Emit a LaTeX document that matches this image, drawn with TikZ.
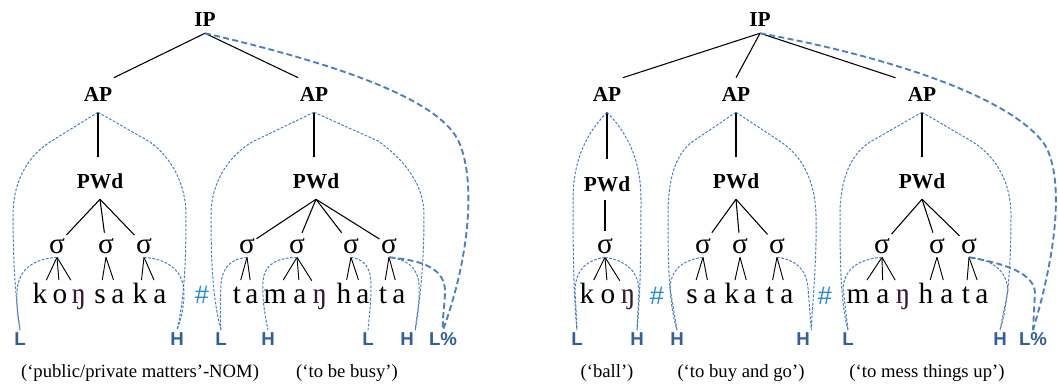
\documentclass[tikz,border=0pt]{standalone}
\usepackage{fontspec}
\setmainfont{Liberation Serif}
\newfontfamily\labfont{Liberation Sans}
\definecolor{arcblue}{HTML}{4A7EC6}
\definecolor{tonblue}{HTML}{2F5F9E}
\definecolor{hashblue}{HTML}{2288D8}
\definecolor{engcol}{HTML}{3A1A32}
\tikzset{
 cat/.style={font=\fontsize{16}{19}\selectfont\bfseries, anchor=base, inner xsep=1pt, inner ysep=7.5pt, text height=10.5pt, text depth=0pt},
 ipn/.style={cat, inner ysep=4.5pt},
 syl/.style={font=\fontsize{22}{26}\selectfont, anchor=base, inner xsep=1pt, inner ysep=3pt, text height=12pt, text depth=0pt},
 seg/.style={font=\fontsize{22}{26}\selectfont, anchor=base, inner xsep=0.5pt, inner ysep=3pt, text height=14pt, text depth=0pt},
 tone/.style={font=\labfont\bfseries\fontsize{14}{17}\selectfont, text=tonblue, anchor=base, inner sep=1pt, text height=10pt, text depth=0pt},
 hashn/.style={font=\labfont\fontsize{19}{22}\selectfont, text=hashblue, anchor=base, inner sep=0pt},
 gloss/.style={font=\fontsize{14}{17}\selectfont, anchor=base, inner sep=0pt},
 br/.style={draw=black, line width=0.8pt},
 arc/.style={draw=arcblue, line width=0.75pt, dash pattern=on 2pt off 1.2pt},
 arcT/.style={draw=arcblue, line width=1.4pt, dash pattern=on 4.5pt off 2.5pt},
}
\begin{document}
\begin{tikzpicture}[x=0.75pt,y=-0.75pt]
\useasboundingbox (0,0) rectangle (1058,385);
% ---------- left tree ----------
\node[ipn] (IPL) at (205,27) {IP};
\node[cat] (APL) at (98,102) {AP};
\node[cat] (APR) at (314,102) {AP};
\node[cat] (PWdL) at (100,189) {PWd};
\node[cat] (PWdR) at (316,189) {PWd};
\node[syl] (s1) at (57,253) {σ};
\node[syl] (s2) at (106,253) {σ};
\node[syl] (s3) at (144,253) {σ};
\node[syl] (s4) at (247,253) {σ};
\node[syl] (s5) at (297,253) {σ};
\node[syl] (s6) at (351,253) {σ};
\node[syl] (s7) at (389,253) {σ};
\node[seg] (w1a) at (40,303) {k};
\node[seg] (w1b) at (60,303) {o};
\node[seg, text=engcol] (w1c) at (79,303) {ŋ};
\node[seg] (w1d) at (100,303) {s};
\node[seg] (w1e) at (118,303) {a};
\node[seg] (w1f) at (140,303) {k};
\node[seg] (w1g) at (160,303) {a};
\node[seg] (w2a) at (237,303) {t};
\node[seg] (w2b) at (252,303) {a};
\node[seg] (w2c) at (275,303) {m};
\node[seg] (w2d) at (300,303) {a};
\node[seg, text=engcol] (w2e) at (320,303) {ŋ};
\node[seg] (w2f) at (344,303) {h};
\node[seg] (w2g) at (363,303) {a};
\node[seg] (w2h) at (383,303) {t};
\node[seg] (w2i) at (399,303) {a};
\node[hashn] (hash1) at (202,303) {\#};
\node[tone] (L1) at (20,345) {L};
\node[tone] (H1) at (177,345) {H};
\node[tone] (L2) at (221,345) {L};
\node[tone] (H2) at (268,345) {H};
\node[tone] (L3) at (368,345) {L};
\node[tone] (H3) at (407,345) {H};
\node[tone] (Lp1) at (443,345) {L\%};
\node[gloss] (g1) at (140,377) {(‘public/private matters’-NOM)};
\node[gloss] (g2) at (347,377) {(‘to be busy’)};
% ---------- right tree ----------
\node[ipn] (IPR) at (760,27) {IP};
\node[cat] (AP1) at (607,102) {AP};
\node[cat] (AP2) at (736,102) {AP};
\node[cat] (AP3) at (922,102) {AP};
\node[cat] (PWd1) at (607,191) {PWd};
\node[cat] (PWd2) at (736,189) {PWd};
\node[cat] (PWd3) at (922,189) {PWd};
\node[syl] (s8) at (605,253) {σ};
\node[syl] (s9) at (703,253) {σ};
\node[syl] (s10) at (740,253) {σ};
\node[syl] (s11) at (777,253) {σ};
\node[syl] (s12) at (882,253) {σ};
\node[syl] (s13) at (937,253) {σ};
\node[syl] (s14) at (969,253) {σ};
\node[seg] (w3a) at (587,303) {k};
\node[seg] (w3b) at (608,303) {o};
\node[seg, text=engcol] (w3c) at (628,303) {ŋ};
\node[seg] (w4a) at (692,303) {s};
\node[seg] (w4b) at (710,303) {a};
\node[seg] (w4c) at (732,303) {k};
\node[seg] (w4d) at (750,303) {a};
\node[seg] (w4e) at (770,303) {t};
\node[seg] (w4f) at (787,303) {a};
\node[seg] (w5a) at (858,303) {m};
\node[seg] (w5b) at (883,303) {a};
\node[seg, text=engcol] (w5c) at (903,303) {ŋ};
\node[seg] (w5d) at (926,303) {h};
\node[seg] (w5e) at (947,303) {a};
\node[seg] (w5f) at (966,303) {t};
\node[seg] (w5g) at (982,303) {a};
\node[hashn] (hash2) at (657,304) {\#};
\node[hashn] (hash3) at (825,304) {\#};
\node[tone] (L4) at (577,345) {L};
\node[tone] (H4) at (637,345) {H};
\node[tone] (H5) at (677,345) {H};
\node[tone] (H6) at (803,345) {H};
\node[tone] (L5) at (848,345) {L};
\node[tone] (H7) at (1000,345) {H};
\node[tone] (Lp2) at (1033,345) {L\%};
\node[gloss] (g3) at (607,377) {(‘ball’)};
\node[gloss] (g4) at (741,377) {(‘to buy and go’)};
\node[gloss] (g5) at (927,377) {(‘to mess things up’)};
% ---------- black branches ----------
\draw[br] (IPL.south) -- (APL.north east);
\draw[br] (IPL.south) -- (APR.north west);
\draw[br] (IPR.south) -- (AP1.north east);
\draw[br] (IPR.south) -- (AP2.north);
\draw[br] (IPR.south) -- ([xshift=-8pt]AP3.north west);
\foreach \a/\p in {APL/PWdL,APR/PWdR,AP2/PWd2,AP3/PWd3,AP1/PWd1}
  \draw[br] (\a.south) -- ([yshift=6pt]\a.south |- \p.north);
\foreach \p/\c in {PWdL/s1,PWdL/s2,PWdL/s3,PWdR/s4,PWdR/s5,PWdR/s6,PWdR/s7,
  PWd2/s9,PWd2/s10,PWd2/s11,PWd3/s12,PWd3/s13,PWd3/s14}
  \draw[br] (\p.south) -- (\c);
\draw[br] ([yshift=1pt]PWd1.south -| s8.north) -- ([yshift=1.5pt]s8.north);
\foreach \p/\c in {s1/w1a,s1/w1b,s1/w1c,s2/w1d,s2/w1e,s3/w1f,s3/w1g,
  s4/w2a,s4/w2b,s5/w2c,s5/w2d,s5/w2e,s6/w2f,s6/w2g,s7/w2h,s7/w2i,
  s8/w3a,s8/w3b,s8/w3c,s9/w4a,s9/w4b,s10/w4c,s10/w4d,s11/w4e,s11/w4f,
  s12/w5a,s12/w5b,s12/w5c,s13/w5d,s13/w5e,s14/w5f,s14/w5g}
  \draw[br, line width=0.7pt] (\p.south) -- (\c);
% ---------- blue association lines: left ----------
\draw[arc] (APL.south) -- (50,142) .. controls (25,158) and (13,185) .. (13,215) .. controls (13,265) and (16,300) .. (L1.north);
\draw[arc] (APL.south) -- (150,142) .. controls (172,158) and (186,185) .. (186,215) .. controls (186,265) and (184,300) .. (H1.north);
\draw[arc] (s1.south) .. controls (35,259) and (18,268) .. (17,292) .. controls (16,310) and (19,322) .. (L1.north);
\draw[arc] (s3.south) .. controls (165,259) and (183,268) .. (184,292) .. controls (184,310) and (180,322) .. (H1.north);
\draw[arc] (APR.south) -- (252,142) .. controls (226,158) and (211,185) .. (211,215) .. controls (211,265) and (213,300) .. (L2.north);
\draw[arc] (APR.south) -- (378,141) .. controls (405,160) and (424,185) .. (424,215) .. controls (424,265) and (420,300) .. (H3.north east);
\draw[arc] (s4.south) .. controls (232,259) and (222,266) .. (221,285) .. controls (220,305) and (220,318) .. (L2.north);
\draw[arc] (s5.south) .. controls (280,258) and (264,262) .. (263,282) .. controls (262,300) and (265,315) .. (H2.north);
\draw[arc] (s6.south) .. controls (363,259) and (371,266) .. (371,285) .. controls (371,305) and (369,318) .. (L3.north);
\draw[arc] (s7.south) .. controls (405,259) and (418,266) .. (419,285) .. controls (420,305) and (416,318) .. (H3.north east);
\draw[arcT] (s7.south) .. controls (415,260) and (444,265) .. (445,290) .. controls (445,305) and (442,318) .. (Lp1.north);
\draw[arcT] (IPL.south) .. controls (320,60) and (435,95) .. (458,140) .. controls (475,175) and (472,250) .. (Lp1.north);
% ---------- blue association lines: right ----------
\draw[arc] (AP1.south) .. controls (590,130) and (573,155) .. (573,200) .. controls (573,260) and (574,300) .. (L4.north);
\draw[arc] (AP1.south) .. controls (624,130) and (641,155) .. (641,200) .. controls (641,260) and (640,300) .. (H4.north);
\draw[arc] (s8.south) .. controls (588,260) and (576,268) .. (575,290) -- (L4.north);
\draw[arc] (s8.south) .. controls (622,260) and (638,268) .. (639,290) -- (H4.north);
\draw[arc] (AP2.south) -- (692,142) .. controls (675,155) and (668,180) .. (668,215) .. controls (668,265) and (669,305) .. (H5.north);
\draw[arc] (AP2.south) -- (778,140) .. controls (802,155) and (815,180) .. (816,215) .. controls (817,265) and (812,305) .. (H6.north east);
\draw[arc] (s9.south) .. controls (688,259) and (671,266) .. (670,288) -- (H5.north);
\draw[arc] (s11.south) .. controls (792,259) and (806,266) .. (808,288) -- (H6.north east);
\draw[arc] (AP3.south) -- (870,142) .. controls (850,155) and (840,180) .. (840,215) .. controls (840,265) and (841,305) .. (L5.north);
\draw[arc] (AP3.south) -- (973,142) .. controls (998,158) and (1011,185) .. (1011,215) .. controls (1011,265) and (1008,305) .. (H7.north);
\draw[arc] (s12.south) .. controls (862,259) and (845,266) .. (843,288) -- (L5.north);
\draw[arc] (s14.south) .. controls (986,259) and (1006,266) .. (1008,290) -- (H7.north);
\draw[arcT] (s14.south) .. controls (995,262) and (1033,270) .. (1035,292) -- (Lp2.north);
\draw[arcT] (IPR.south) .. controls (880,55) and (1010,95) .. (1045,145) .. controls (1062,175) and (1060,240) .. (Lp2.north);
\end{tikzpicture}
\end{document}
